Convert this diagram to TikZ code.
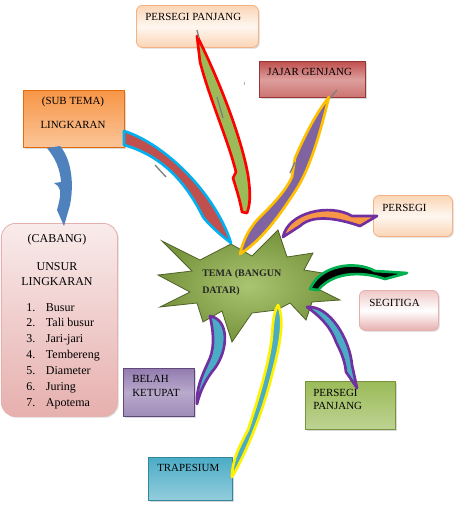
\documentclass[tikz,border=0pt]{standalone}
\usepackage{fontspec}
\setmainfont{Liberation Serif}
\usetikzlibrary{shadows}
\definecolor{peach}{rgb}{0.984,0.835,0.71}
\definecolor{peachline}{rgb}{0.957,0.694,0.514}
\definecolor{merahbata}{rgb}{0.753,0.314,0.302}
\definecolor{merahtua}{rgb}{0.584,0.216,0.208}
\definecolor{oranye}{rgb}{0.969,0.588,0.275}
\definecolor{oranyetua}{rgb}{0.894,0.424,0.039}
\definecolor{merahmuda}{rgb}{0.902,0.69,0.682}
\definecolor{ungu}{rgb}{0.502,0.392,0.635}
\definecolor{ungutua}{rgb}{0.373,0.286,0.478}
\definecolor{hijau}{rgb}{0.608,0.733,0.349}
\definecolor{hijautua}{rgb}{0.467,0.576,0.235}
\definecolor{zaitun}{rgb}{0.31,0.384,0.157}
\definecolor{tosca}{rgb}{0.294,0.675,0.776}
\definecolor{toscatua}{rgb}{0.192,0.522,0.612}
\definecolor{birulangit}{rgb}{0,0.69,0.941}
\definecolor{emas}{rgb}{1,0.753,0}
\definecolor{ungupekat}{rgb}{0.439,0.188,0.627}
\definecolor{hijaulumut}{rgb}{0,0.69,0.314}
\definecolor{biru}{rgb}{0.31,0.506,0.741}
\tikzstyle{kotak}=[anchor=north west,inner sep=0pt,line width=0.6pt,drop shadow={opacity=0.3,shadow xshift=1pt,shadow yshift=-1pt}]
\tikzstyle{kotakpeach}=[kotak,rounded corners=4.5pt,draw=peachline,top color=peach,bottom color=peach,middle color=peach!20]
\tikzstyle{kotakpink}=[kotak,rounded corners=4.5pt,draw=merahmuda,top color=merahmuda!70,bottom color=merahmuda,middle color=white]
\tikzstyle{teks}=[anchor=base west,inner sep=0pt,font=\fontsize{8.2}{10}\selectfont]
\tikzstyle{tekstengah}=[teks,anchor=base]
\tikzstyle{panah}=[line width=2pt,line join=round]

\begin{document}
\begin{tikzpicture}[x=0.75pt,y=-0.75pt]
\useasboundingbox (0,0) rectangle (457,519);
\node[kotakpeach,minimum width=91.5pt,minimum height=31.5pt] (ppatas) at (136,5) {};
\node[kotak,draw=merahtua,top color=merahbata,bottom color=merahbata!80,middle color=merahbata!55,minimum width=79.5pt,minimum height=27pt] (jajar) at (259,61) {};
\node[kotak,draw=oranyetua,top color=oranye,bottom color=oranye!55,minimum width=75.75pt,minimum height=42.75pt] (lingkaran) at (23,90) {};
\node[kotakpeach,minimum width=59.25pt,minimum height=30.75pt] (persegi) at (373,195) {};
\node[kotak,rounded corners=10.5pt,draw=merahmuda,top color=merahmuda!25,bottom color=merahmuda,minimum width=87pt,minimum height=144.75pt] (cabang) at (1,223) {};
\node[kotakpink,minimum width=59.25pt,minimum height=30pt] (segitiga) at (359,290) {};
\node[kotak,draw=ungutua,top color=ungu!85,bottom color=ungu!75,middle color=ungu!55,minimum width=53.25pt,minimum height=36pt] (belah) at (123,368) {};
\node[kotak,draw=hijautua,top color=hijau,bottom color=hijau!65,minimum width=67.5pt,minimum height=36pt] (ppbawah) at (305,381) {};
\node[kotak,draw=toscatua,top color=tosca,bottom color=tosca!60,minimum width=63pt,minimum height=32.25pt] (trapesium) at (148,457) {};

\draw[draw=zaitun,line width=0.6pt,inner color=hijau!85!white,outer color=hijautua] (162,241) -- (200,260) -- (231,244) -- (252,256) -- (278,230) -- (287,257) -- (313,253) -- (304,270) -- (335,275) -- (314,287) -- (340,300) -- (312,302) -- (306,320) -- (290,303) -- (277,310) -- (252,313) -- (232,342) -- (222,311) -- (203,322) -- (197,303) -- (160,307) -- (190,292) -- (158,275) -- (192,271) -- cycle;

\path (124,131) coordinate (ekor1) (231,243) coordinate (ujung1);
\path (197,36) coordinate (ekor2) (247,213) coordinate (ujung2);
\path (329,97) coordinate (ekor3) (240,254) coordinate (ujung3);
\path (283,237) coordinate (ekor4) (377,216) coordinate (ujung4);
\path (310,289) coordinate (ekor5) (407,273) coordinate (ujung5);
\path (307,307) coordinate (ekor6) (357,388) coordinate (ujung6);
\path (210,316) coordinate (ekor7) (197,404) coordinate (ujung7);
\path (278,305) coordinate (ekor8) (232,477) coordinate (ujung8);
\path (47,148) coordinate (ekor9) (64,226) coordinate (ujung9);

\draw[panah,draw=birulangit,fill=merahbata] (ekor1) .. controls (165,144) and (215,193) .. (ujung1) .. controls (222,236) and (210,226) .. (203,217) .. controls (185,180) and (160,155) .. (124,145) -- cycle;
\draw[panah,draw=red,fill=hijau] (ekor2) .. controls (212,65) and (240,130) .. (248,175) .. controls (251,195) and (250,205) .. (ujung2) -- (242,212) .. controls (240,200) and (236,188) .. (233,178) -- (236,172) .. controls (228,140) and (210,100) .. (200,62) -- cycle;
\draw[panah,draw=emas,fill=ungu] (ekor3) .. controls (322,125) and (312,165) .. (296,190) .. controls (280,215) and (262,240) .. (ujung3) .. controls (243,240) and (250,226) .. (262,215) .. controls (275,202) and (286,190) .. (292,177) -- (295,158) .. controls (305,135) and (316,113) .. cycle;
\draw[panah,draw=ungupekat,fill=oranye] (ekor4) .. controls (288,212) and (330,203) .. (352,216) -- (ujung4) -- (360,226) .. controls (345,221) and (315,212) .. (300,226) -- cycle;
\draw[panah,draw=hijaulumut,fill=black] (ekor5) .. controls (320,265) and (355,260) .. (375,271) -- (ujung5) -- (385,279) .. controls (365,272) and (335,270) .. (318,290) -- cycle;
\draw[panah,draw=ungupekat,fill=tosca] (ekor6) .. controls (330,305) and (350,340) .. (352,365) -- (ujung6) -- (346,372) .. controls (345,360) and (340,350) .. (336,342) .. controls (330,325) and (318,315) .. cycle;
\draw[panah,draw=ungupekat,fill=tosca] (ekor7) .. controls (230,320) and (228,350) .. (215,368) .. controls (205,380) and (200,392) .. (ujung7) .. controls (196,385) and (205,370) .. (210,358) .. controls (215,345) and (213,330) .. cycle;
\draw[panah,draw=yellow,fill=tosca] (ekor8) .. controls (285,320) and (280,345) .. (272,375) .. controls (262,415) and (245,455) .. (ujung8) .. controls (232,460) and (240,445) .. (248,430) .. controls (258,400) and (270,360) .. (272,335) .. controls (273,320) and (274,312) .. cycle;
\fill[biru] (ekor9) -- (60,146) .. controls (72,160) and (74,185) .. (70,205) -- (ujung9) -- (57,210) .. controls (61,196) and (61,190) .. (58,186) -- (54,183) -- (61,182) .. controls (60,168) and (55,158) .. cycle;
\draw[gray,line width=1pt] (197,30) -- (199,38) (217,97) -- (223,118) (337,90) -- (330,98) (290,173) -- (295,162) (155,165) -- (166,177);
\draw[gray!60] (244,82) -- (244,85);

\node[teks] (tppatas) at (145,20) {PERSEGI PANJANG};
\node[teks] (tjajar) at (267,75) {JAJAR GENJANG};
\node[tekstengah] (tsub) at (73,104) {(SUB TEMA)};
\node[tekstengah] (tlingkaran) at (73,128) {LINGKARAN};
\node[teks] (tpersegi) at (382,211) {PERSEGI};
\node[teks] (tsegitiga) at (369,306) {SEGITIGA};
\node[teks] (tbelah) at (132,382) {BELAH};
\node[teks] (tketupat) at (132,396) {KETUPAT};
\node[teks] (tpp1) at (313,396) {PERSEGI};
\node[teks] (tpp2) at (313,409) {PANJANG};
\node[teks] (ttrapesium) at (157,471) {TRAPESIUM};
\node[tekstengah,font=\fontsize{9}{11}\selectfont] (tcabang) at (57,242) {(CABANG)};
\node[tekstengah,font=\fontsize{9}{11}\selectfont] (tunsur) at (57,270) {UNSUR};
\node[tekstengah,font=\fontsize{9}{11}\selectfont] (tunsur2) at (57,285) {LINGKARAN};
\node[teks,font=\fontsize{9}{11.875}\selectfont] (tdaftar) at (26,311) {\begin{tabular}[t]{@{}r@{\hspace{8pt}}l@{}}1. & Busur\\ 2. & Tali busur\\ 3. & Jari-jari\\ 4. & Tembereng\\ 5. & Diameter\\ 6. & Juring\\ 7. & Apotema\end{tabular}};
\node[teks,font=\bfseries\fontsize{7.5}{9}\selectfont,text=black!85] (tema1) at (202,276) {TEMA (BANGUN};
\node[teks,font=\bfseries\fontsize{7.5}{9}\selectfont,text=black!85] (tema2) at (202,293) {DATAR)};
\end{tikzpicture}
\end{document}
